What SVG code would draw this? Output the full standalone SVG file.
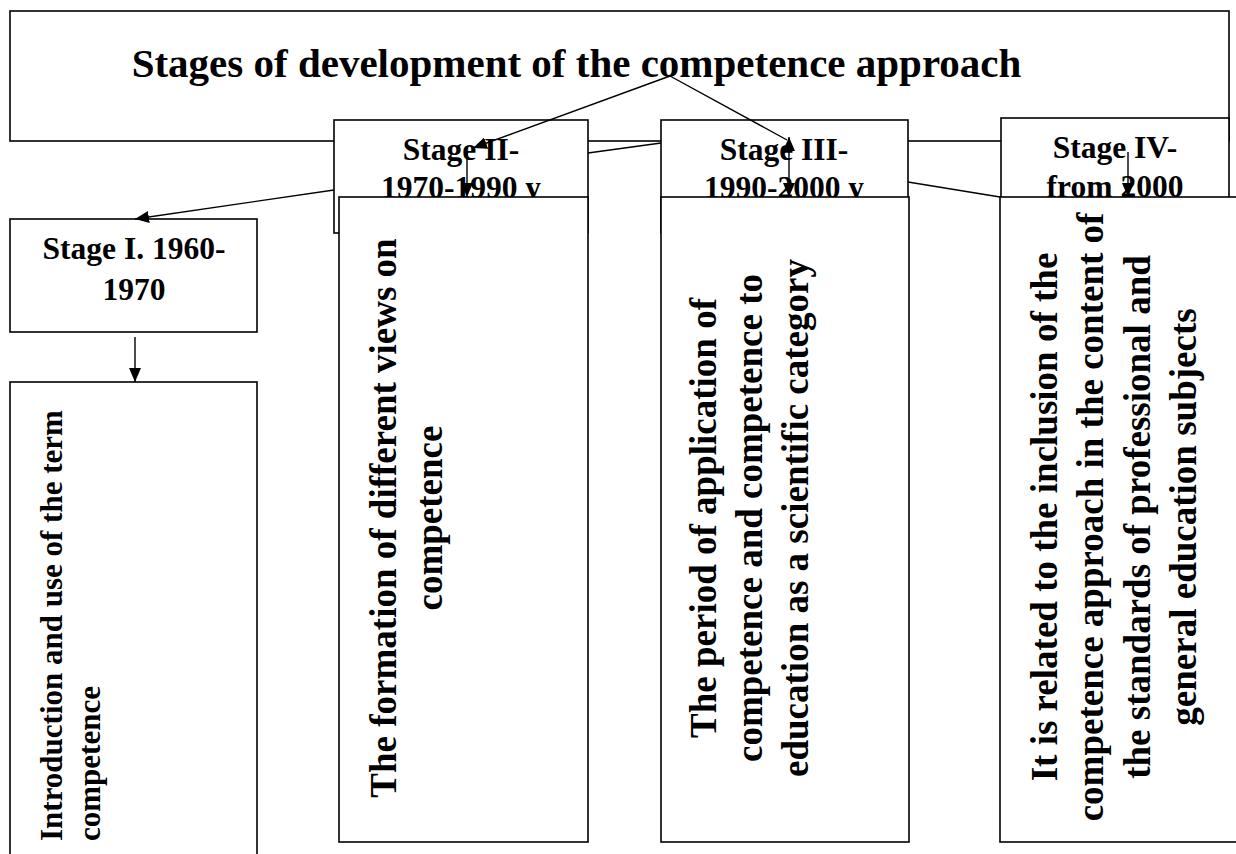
<svg xmlns="http://www.w3.org/2000/svg" width="1236" height="854" viewBox="0 0 1236 854">
<style>
.box{fill:#fff;stroke:#000;stroke-width:1.6}
.t{font-family:"Liberation Serif","Times New Roman",serif;font-weight:bold;fill:#000}
.title{font-size:41px}
.hd{font-size:31.5px;text-anchor:middle}
.s1{font-size:31px}
.b{font-size:37px;text-anchor:middle}
.c{fill:none;stroke:#000;stroke-width:1.4}
</style>
<defs>
<marker id="ah" markerUnits="userSpaceOnUse" markerWidth="14" markerHeight="12" refX="14" refY="6" orient="auto-start-reverse"><path d="M0,0 L14,6 L0,12 z" fill="#000"/></marker>
</defs>
<rect width="1236" height="854" fill="#fff"/>
<g id="title">
<rect class="box" x="10" y="11" width="1219" height="130"/>
<text class="t title" x="576.5" y="77" text-anchor="middle">Stages of development of the competence approach</text>
</g>
<g id="stage1">
<rect class="box" x="10" y="219" width="247" height="113"/>
<text class="t hd" x="134" y="259">Stage I. 1960-</text>
<text class="t hd" x="134" y="300">1970</text>
</g>
<g id="stage2">
<rect class="box" x="334" y="120" width="254" height="113"/>
<text class="t hd" x="461" y="160">Stage II-</text>
<text class="t hd" x="461" y="198">1970-1990 y</text>
</g>
<g id="stage3">
<rect class="box" x="661" y="120" width="247" height="113"/>
<text class="t hd" x="784" y="160">Stage III-</text>
<text class="t hd" x="784" y="198">1990-2000 y</text>
</g>
<g id="stage4">
<rect class="box" x="1001" y="118" width="228" height="113"/>
<text class="t hd" x="1115" y="158">Stage  IV-</text>
<text class="t hd" x="1115" y="197">from 2000</text>
</g>
<g id="desc1">
<rect class="box" x="10" y="382" width="247" height="490"/>
<text class="t s1" transform="translate(62,841) rotate(-90)">Introduction and use of the term</text>
<text class="t s1" transform="translate(100,841) rotate(-90)">competence</text>
</g>
<g id="desc2">
<rect class="box" x="339" y="197" width="249" height="645"/>
<text class="t b" transform="translate(396,518) rotate(-90)">The formation of different views on</text>
<text class="t b" transform="translate(442,518) rotate(-90)">competence</text>
</g>
<g id="desc3">
<rect class="box" x="661" y="197" width="248" height="645"/>
<text class="t b" transform="translate(716,518) rotate(-90)">The period of application of</text>
<text class="t b" transform="translate(762,518) rotate(-90)">competence and competence to</text>
<text class="t b" transform="translate(808,518) rotate(-90)">education as a scientific category</text>
</g>
<g id="desc4">
<rect class="box" x="1000" y="197" width="250" height="645"/>
<text class="t b" transform="translate(1057,517) rotate(-90)">It is related to the inclusion of the</text>
<text class="t b" transform="translate(1103,517) rotate(-90)">competence approach in the content of</text>
<text class="t b" transform="translate(1150,517) rotate(-90)">the standards of professional and</text>
<text class="t b" transform="translate(1196,517) rotate(-90)">general education subjects</text>
</g>
<g id="connectors">
<line class="c" x1="334" y1="190" x2="135" y2="219" marker-end="url(#ah)"/>
<line class="c" x1="135" y1="337" x2="135" y2="382" marker-end="url(#ah)"/>
<line class="c" x1="670" y1="76" x2="473" y2="148" marker-end="url(#ah)"/>
<line class="c" x1="467" y1="152" x2="467" y2="197" marker-end="url(#ah)"/>
<line class="c" x1="670" y1="76" x2="787" y2="140"/>
<line class="c" x1="789" y1="137" x2="789" y2="197" marker-start="url(#ah)" marker-end="url(#ah)"/>
<line class="c" x1="588" y1="153" x2="661" y2="143"/>
<line class="c" x1="908" y1="182" x2="1000" y2="197"/>
<line class="c" x1="1128" y1="152" x2="1128" y2="197" marker-end="url(#ah)"/>
</g>
</svg>
